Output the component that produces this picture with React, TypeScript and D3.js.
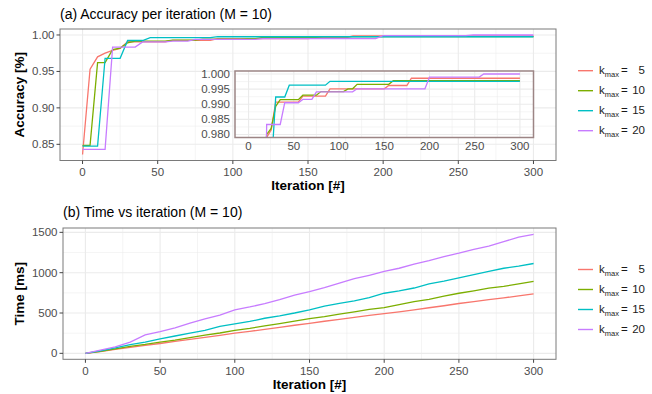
import React from 'react';
import * as d3 from 'd3';

const kmaxLabels = ['5', '10', '15', '20'];
const seriesColors = ['#F8766D', '#7CAE00', '#00BFC4', '#C77CFF'];

// Accuracy (breakpoints of the stepwise accuracy curves)
const accIterK5 = [0, 5, 10, 15, 20, 25, 30, 55, 60, 85, 90, 150, 155, 175, 180, 300];
const accK5 = [0.836, 0.953, 0.970, 0.975, 0.979, 0.9815, 0.9907, 0.9907, 0.9927, 0.9927, 0.9951, 0.9951, 0.9962, 0.9962, 0.9986, 0.9986];
const accIterK10 = [0, 5, 10, 15, 20, 25, 30, 35, 55, 60, 75, 80, 105, 110, 115, 120, 155, 160, 300];
const accK10 = [0.8485, 0.8485, 0.962, 0.962, 0.980, 0.982, 0.9893, 0.9915, 0.9915, 0.993, 0.993, 0.9942, 0.9942, 0.9951, 0.9951, 0.9966, 0.9966, 0.9978, 0.9978];
const accIterK15 = [0, 10, 15, 25, 30, 40, 45, 85, 90, 300];
const accK15 = [0.8475, 0.8475, 0.968, 0.968, 0.9924, 0.9924, 0.9963, 0.9963, 0.9976, 0.9976];
const accIterK20 = [0, 15, 20, 35, 40, 55, 60, 70, 75, 115, 120, 195, 200, 255, 260, 300];
const accK20 = [0.843, 0.843, 0.9833, 0.9833, 0.9905, 0.9905, 0.9916, 0.9916, 0.9941, 0.9941, 0.9951, 0.9951, 0.999, 0.999, 1.0, 1.0];

// Time per iteration
const timeIter = [0, 10, 20, 30, 40, 50, 60, 70, 80, 90, 100, 110, 120, 130, 140, 150, 160, 170, 180, 190, 200, 210, 220, 230, 240, 250, 260, 270, 280, 290, 300];
const timeK5 = [0, 22, 48, 75, 98, 122, 148, 172, 198, 222, 250, 272, 298, 322, 348, 372, 398, 420, 445, 470, 492, 515, 540, 565, 590, 618, 640, 665, 688, 712, 738];
const timeK10 = [0, 25, 55, 85, 110, 140, 165, 195, 225, 252, 285, 310, 340, 368, 400, 430, 455, 485, 515, 545, 568, 605, 640, 670, 708, 745, 775, 808, 830, 860, 893];
const timeK15 = [0, 30, 68, 108, 140, 180, 215, 250, 285, 335, 365, 395, 435, 465, 500, 540, 585, 620, 650, 690, 745, 775, 810, 860, 895, 935, 975, 1015, 1055, 1080, 1114];
const timeK20 = [0, 40, 80, 140, 228, 268, 315, 375, 428, 475, 540, 575, 615, 665, 722, 765, 815, 870, 925, 968, 1015, 1055, 1105, 1150, 1200, 1242, 1290, 1330, 1385, 1440, 1475];

const xTickValues = [0, 50, 100, 150, 200, 250, 300];
const xMinorValues = [25, 75, 125, 175, 225, 275];
const accTickValues = [0.85, 0.90, 0.95, 1.00];
const accMinorValues = [0.875, 0.925, 0.975];
const insetTickValues = [0.980, 0.985, 0.990, 0.995, 1.000];
const insetMinorValues = [0.9825, 0.9875, 0.9925, 0.9975];
const timeTickValues = [0, 500, 1000, 1500];
const timeMinorValues = [250, 750, 1250];

const FONT = 'Liberation Sans, Arial, Helvetica, sans-serif';

type Pt = { x: number; y: number };
const zip = (xs: number[], ys: number[]): Pt[] => xs.map((x, i) => ({ x, y: ys[i] }));

const accSeries = [zip(accIterK5, accK5), zip(accIterK10, accK10), zip(accIterK15, accK15), zip(accIterK20, accK20)];
const timeSeries = [zip(timeIter, timeK5), zip(timeIter, timeK10), zip(timeIter, timeK15), zip(timeIter, timeK20)];

function Grid({ x, y, xMajor, xMinor, yMajor, yMinor }: any) {
  const [x0, x1] = x.range();
  const [y0, y1] = y.range();
  return (
    <g>
      {yMinor.map((v: number) => (
        <line key={'ym' + v} x1={x0} x2={x1} y1={y(v)} y2={y(v)} stroke="#EBEBEB" strokeWidth={0.55} />
      ))}
      {xMinor.map((v: number) => (
        <line key={'xm' + v} x1={x(v)} x2={x(v)} y1={y0} y2={y1} stroke="#EBEBEB" strokeWidth={0.55} />
      ))}
      {yMajor.map((v: number) => (
        <line key={'yM' + v} x1={x0} x2={x1} y1={y(v)} y2={y(v)} stroke="#EBEBEB" strokeWidth={1.1} />
      ))}
      {xMajor.map((v: number) => (
        <line key={'xM' + v} x1={x(v)} x2={x(v)} y1={y0} y2={y1} stroke="#EBEBEB" strokeWidth={1.1} />
      ))}
    </g>
  );
}

function Legend({ top }: { top: number }) {
  return (
    <g fontFamily={FONT} fill="#1a1a1a">
      {kmaxLabels.map((k, i) => {
        const cy = top + i * 20;
        return (
          <g key={k}>
            <line x1={578} x2={593} y1={cy} y2={cy} stroke={seriesColors[i]} strokeWidth={1.4} />
            <text x={599} y={cy + 3} fontSize={11.5}>
              k<tspan fontSize={7.5} dy={3}>max</tspan>
            </text>
            <text x={621} y={cy + 3} fontSize={11.5}>=</text>
            <text x={645} y={cy + 3} fontSize={11.5} textAnchor="end">{k}</text>
          </g>
        );
      })}
    </g>
  );
}

function MainPanel(props: any) {
  const { x, y, yTicks, yMinor, series, yFmt, title, yTitle, titleY, xLabelY, xTitleY, children, clipId } = props;
  const [x0, x1] = x.range();
  const [yb, yt] = y.range();
  const line = d3.line<Pt>().x((d) => x(d.x)).y((d) => y(d.y));
  return (
    <g fontFamily={FONT}>
      <text x={x0} y={titleY} fontSize={14} fill="#000">{title}</text>
      <rect x={x0} y={yt} width={x1 - x0} height={yb - yt} fill="#fff" />
      <Grid x={x} y={y} xMajor={xTickValues} xMinor={xMinorValues} yMajor={yTicks} yMinor={yMinor} />
      <clipPath id={clipId}>
        <rect x={x0} y={yt} width={x1 - x0} height={yb - yt} />
      </clipPath>
      <g clipPath={`url(#${clipId})`}>
        {series.map((s: Pt[], i: number) => (
          <path key={i} d={line(s) || ''} fill="none" stroke={seriesColors[i]} strokeWidth={1.3} />
        ))}
      </g>
      {children}
      <rect x={x0} y={yt} width={x1 - x0} height={yb - yt} fill="none" stroke="#7a7a7a" strokeWidth={1} />
      {yTicks.map((v: number) => (
        <g key={'yt' + v}>
          <line x1={x0 - 3.5} x2={x0} y1={y(v)} y2={y(v)} stroke="#444" strokeWidth={1} />
          <text x={x0 - 5.5} y={y(v) + 4} fontSize={11.5} fill="#4D4D4D" textAnchor="end">{yFmt(v)}</text>
        </g>
      ))}
      {xTickValues.map((v: number) => (
        <g key={'xt' + v}>
          <line x1={x(v)} x2={x(v)} y1={yb} y2={yb + 3.5} stroke="#444" strokeWidth={1} />
          <text x={x(v)} y={xLabelY} fontSize={11.5} fill="#4D4D4D" textAnchor="middle">{v}</text>
        </g>
      ))}
      <text x={(x0 + x1) / 2} y={xTitleY} fontSize={13.5} fontWeight="bold" textAnchor="middle" fill="#000">Iteration [#]</text>
      <text transform={`translate(${24},${(yb + yt) / 2}) rotate(-90)`} fontSize={13.5} fontWeight="bold" textAnchor="middle" fill="#000">{yTitle}</text>
    </g>
  );
}

function Inset() {
  const x = d3.scaleLinear().domain([-15, 315]).range([235, 533.5]);
  const y = d3.scaleLinear().domain([0.979, 1.001]).range([137.5, 71]);
  const [x0, x1] = x.range();
  const [yb, yt] = y.range();
  const line = d3.line<Pt>().x((d) => x(d.x)).y((d) => y(d.y));
  return (
    <g fontFamily={FONT}>
      <rect x={x0} y={yt} width={x1 - x0} height={yb - yt} fill="#fff" />
      <Grid x={x} y={y} xMajor={xTickValues} xMinor={xMinorValues} yMajor={insetTickValues} yMinor={insetMinorValues} />
      <clipPath id="insetclip">
        <rect x={x0} y={yt} width={x1 - x0} height={yb - yt} />
      </clipPath>
      <g clipPath="url(#insetclip)">
        {accSeries.map((s, i) => (
          <path key={i} d={line(s) || ''} fill="none" stroke={seriesColors[i]} strokeWidth={1.3} />
        ))}
      </g>
      <rect x={x0} y={yt} width={x1 - x0} height={yb - yt} fill="none" stroke="#9C8585" strokeWidth={1.5} />
      {insetTickValues.map((v) => (
        <text key={'iy' + v} x={x0 - 5} y={y(v) + 4} fontSize={11.5} fill="#4D4D4D" textAnchor="end">{d3.format('.3f')(v)}</text>
      ))}
      {xTickValues.map((v) => (
        <text key={'ix' + v} x={x(v)} y={150} fontSize={11.5} fill="#4D4D4D" textAnchor="middle">{v}</text>
      ))}
    </g>
  );
}

export default function App() {
  const topX = d3.scaleLinear().domain([-15, 315]).range([60, 556]);
  const topY = d3.scaleLinear().domain([0.8278, 1.0082]).range([160.5, 29]);
  const botX = d3.scaleLinear().domain([-15, 315]).range([63, 556]);
  const botY = d3.scaleLinear().domain([-74, 1554]).range([359.3, 228]);
  return (
    <svg width={652} height={394} viewBox="0 0 652 394" style={{ position: 'fixed', left: 0, top: 0, background: '#fff' }}>
      <rect x={0} y={0} width={652} height={394} fill="#fff" />
      <MainPanel
        x={topX}
        y={topY}
        yTicks={accTickValues}
        yMinor={accMinorValues}
        series={accSeries}
        yFmt={d3.format('.2f')}
        title="(a) Accuracy per iteration (M = 10)"
        yTitle="Accuracy [%]"
        titleY={18.5}
        xLabelY={176}
        xTitleY={190}
        clipId="topclip"
      >
        <Inset />
      </MainPanel>
      <Legend top={70.7} />
      <MainPanel
        x={botX}
        y={botY}
        yTicks={timeTickValues}
        yMinor={timeMinorValues}
        series={timeSeries}
        yFmt={(v: number) => String(v)}
        title="(b) Time vs iteration (M = 10)"
        yTitle="Time [ms]"
        titleY={217}
        xLabelY={375}
        xTitleY={388.5}
        clipId="botclip"
      />
      <Legend top={269.5} />
    </svg>
  );
}
